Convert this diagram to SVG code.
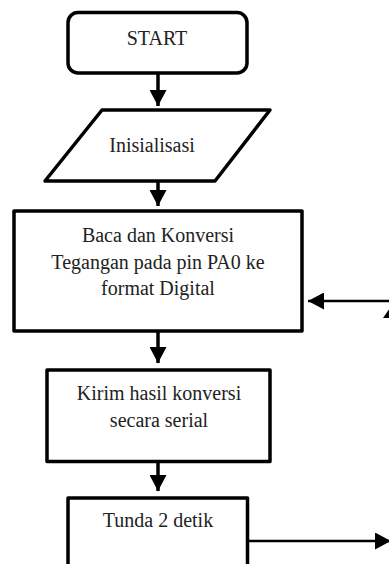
<svg xmlns="http://www.w3.org/2000/svg" width="389" height="564" viewBox="0 0 389 564">
<style>
.box{fill:#fff;stroke:#000;stroke-width:3.5;stroke-linejoin:round}
.t{font-family:"Liberation Serif","Times New Roman",serif;font-size:20px;fill:#222;text-anchor:middle}
.c{stroke:#000;fill:none}
.v{stroke-width:3.5}
.h{stroke-width:2.5}
</style>
<defs>
<marker id="ah" markerUnits="userSpaceOnUse" markerWidth="17" markerHeight="17" refX="16" refY="8.5" orient="auto">
<path d="M0,0 L16,8.5 L0,17 z" fill="#000"/>
</marker>
</defs>
<rect width="389" height="564" fill="#fff"/>
<g id="connectors">
<line class="c v" x1="158" y1="73" x2="158" y2="106" marker-end="url(#ah)"/>
<line class="c v" x1="158" y1="181" x2="158" y2="206" marker-end="url(#ah)"/>
<line class="c v" x1="158" y1="331" x2="158" y2="363" marker-end="url(#ah)"/>
<line class="c v" x1="158" y1="461" x2="158" y2="491" marker-end="url(#ah)"/>
<line class="c h" x1="395" y1="301" x2="308" y2="301" marker-end="url(#ah)"/>
<polygon points="392,305 383,318 401,318" fill="#000"/>
<line class="c h" x1="248" y1="541" x2="391" y2="541" marker-end="url(#ah)"/>
</g>
<g id="start">
<rect class="box" x="68" y="12.5" width="179" height="60.5" rx="10"/>
<text class="t" x="157" y="45">START</text>
</g>
<g id="init">
<polygon class="box" points="102,110 270,110 215,181 45,181"/>
<text class="t" x="152" y="152">Inisialisasi</text>
</g>
<g id="baca">
<rect class="box" x="14" y="211" width="288" height="120"/>
<text class="t" x="158" y="242">Baca dan Konversi</text>
<text class="t" x="158" y="268.5">Tegangan pada pin PA0 ke</text>
<text class="t" x="158" y="295">format Digital</text>
</g>
<g id="kirim">
<rect class="box" x="47" y="370" width="223" height="91.5"/>
<text class="t" x="159" y="400">Kirim hasil konversi</text>
<text class="t" x="159" y="427">secara serial</text>
</g>
<g id="tunda">
<rect class="box" x="68" y="498" width="179.5" height="80"/>
<text class="t" x="158" y="527">Tunda 2 detik</text>
</g>
</svg>
